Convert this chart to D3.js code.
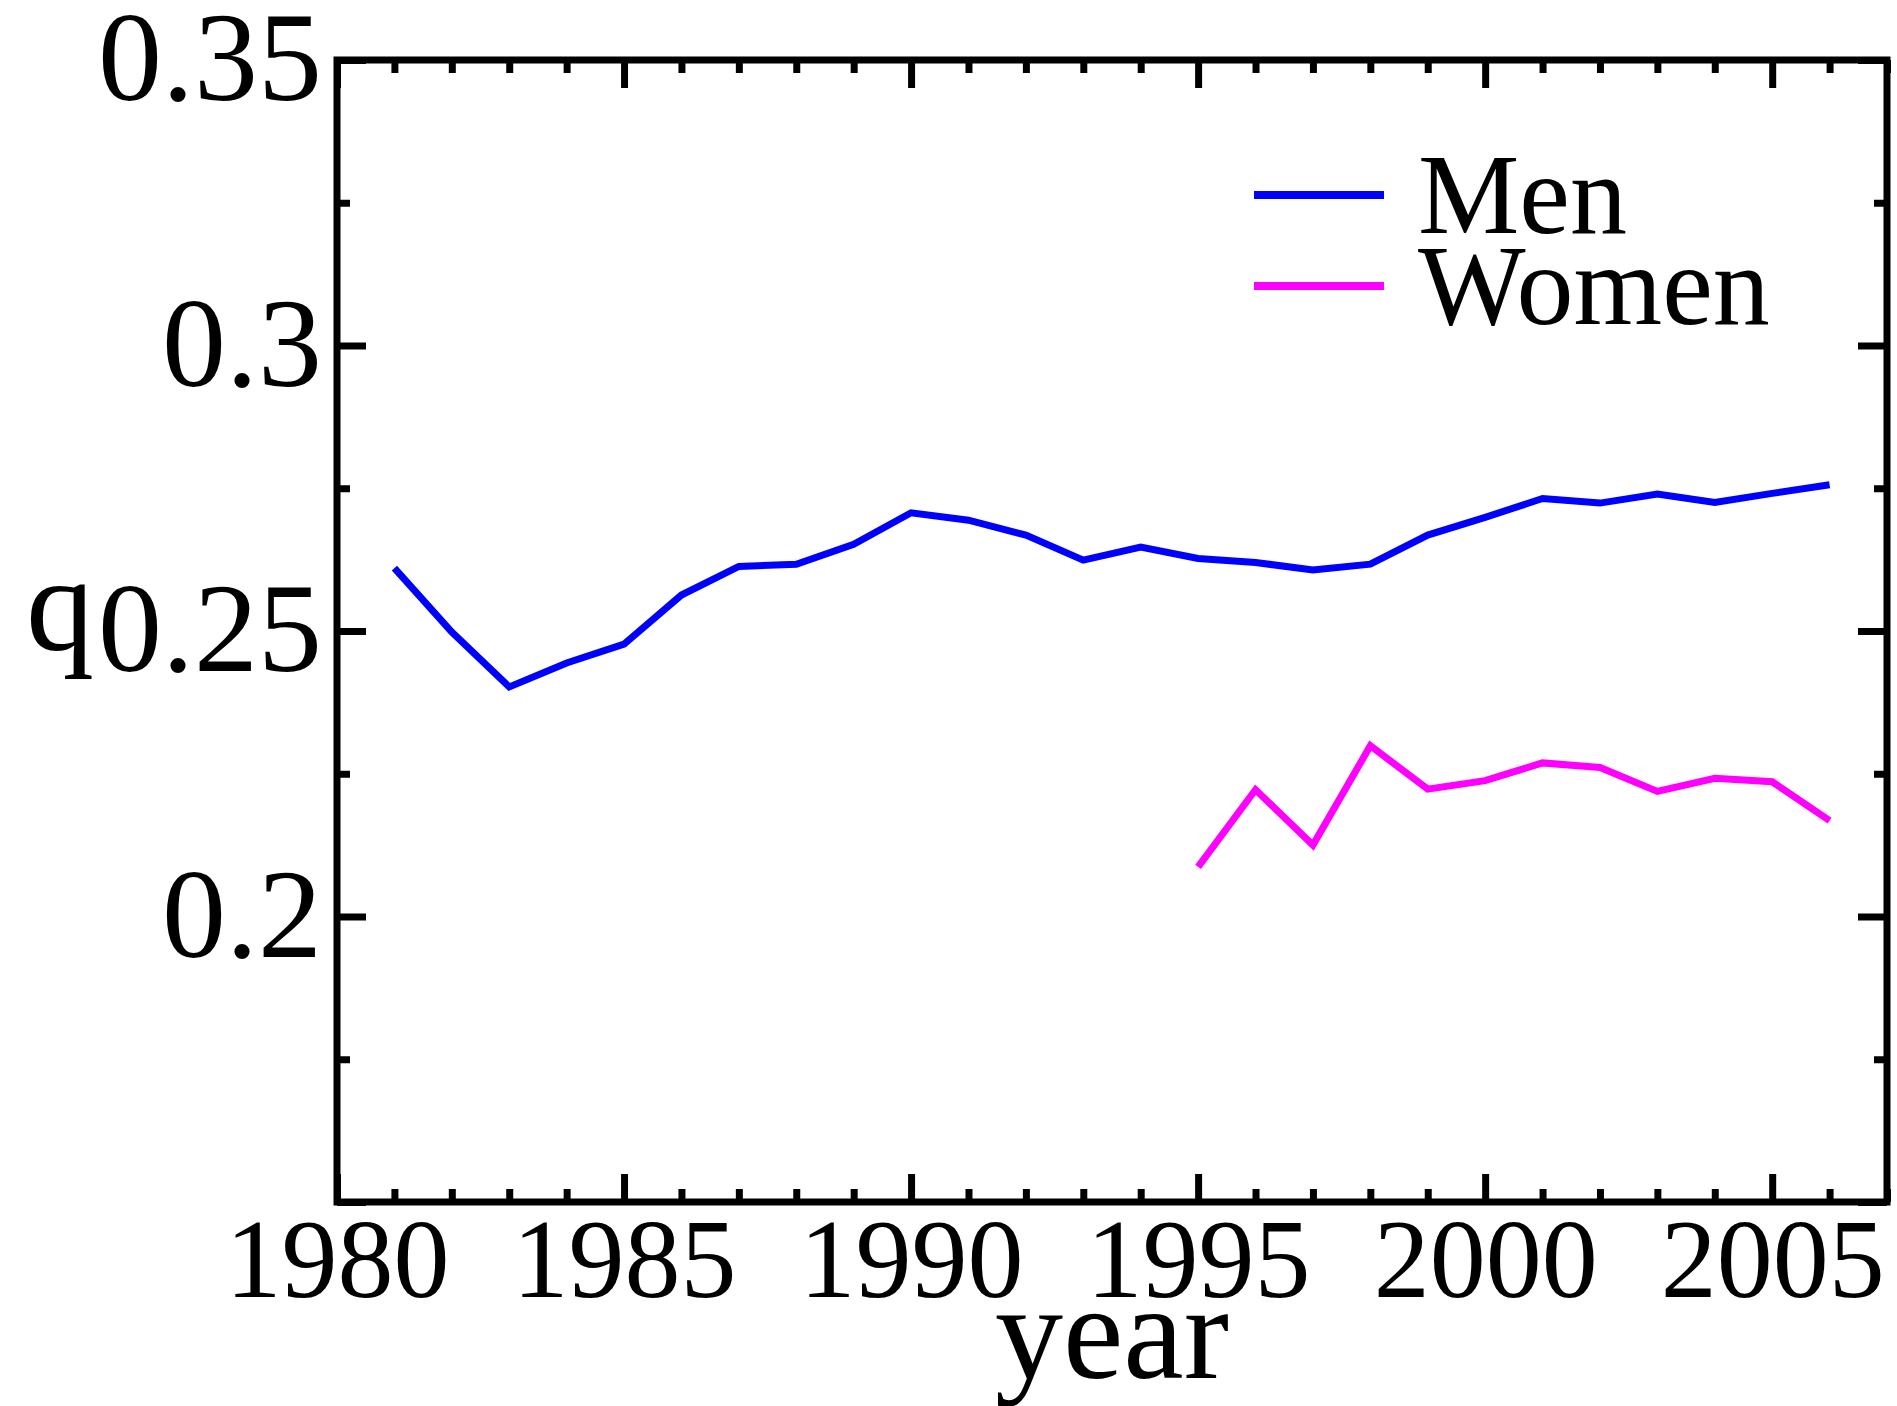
<!DOCTYPE html>
<html>
<head>
<meta charset="utf-8">
<script src="https://cdn.jsdelivr.net/npm/d3@7"></script>
<style>
  body { margin: 0; background: #fff; }
  svg text { font-family: "Liberation Serif", "Times New Roman", serif; fill: #000; }
</style>
</head>
<body>
<svg id="chart"></svg>
<script>
// Data
const menYears = [1981,1982,1983,1984,1985,1986,1987,1988,1989,1990,1991,1992,1993,
                  1994,1995,1996,1997,1998,1999,2000,2001,2002,2003,2004,2005,2006];
const menQ = [0.2610,0.2498,0.2402,0.2444,0.2477,0.2563,0.2613,0.2617,0.2652,0.2707,0.2694,0.2668,0.2624,
              0.2647,0.2627,0.2620,0.2607,0.2617,0.2668,0.2699,0.2732,0.2724,0.2740,0.2725,0.2741,0.2756];
const womenYears = [1995,1996,1997,1998,1999,2000,2001,2002,2003,2004,2005,2006];
const womenQ = [0.2087,0.2222,0.2125,0.2299,0.2223,0.2238,0.2269,0.2261,0.2219,0.2242,0.2236,0.2168];

const xMajor = [1980,1985,1990,1995,2000,2005];
const yMajor = [0.15,0.2,0.25,0.3,0.35];
const yLabelled = [0.2,0.25,0.3,0.35];

const series = [
  {name: "Men", color: "#0000ff", years: menYears, values: menQ},
  {name: "Women", color: "#ff00ff", years: womenYears, values: womenQ}
];

// The svg
const width = 1897, height = 1406;
const svg = d3.select("#chart").attr("width", width).attr("height", height);

const x = d3.scaleLinear().domain([1980, 2007]).range([337, 1887]);
const y = d3.scaleLinear().domain([0.15, 0.35]).range([1202, 60]);

const xMinor = d3.range(1980, 2008).filter(d => d % 5 !== 0);
const yMinor = d3.range(0.175, 0.35, 0.05);

const tickStyle = g => {
  g.select(".domain").remove();
  g.selectAll(".tick line").attr("stroke", "#000").attr("stroke-width", 7);
};

// bottom axis, ticks pointing inside
svg.append("g").attr("transform", `translate(0,${y.range()[0]})`)
  .call(d3.axisBottom(x).tickValues(xMajor).tickFormat(d3.format("d")).tickSize(-28).tickPadding(15))
  .call(tickStyle)
  .call(g => g.selectAll("text").attr("font-size", 112).attr("font-family", null));
svg.append("g").attr("transform", `translate(0,${y.range()[0]})`)
  .call(d3.axisBottom(x).tickValues(xMinor).tickFormat("").tickSize(-13))
  .call(tickStyle);

// top axis
svg.append("g").attr("transform", `translate(0,${y.range()[1]})`)
  .call(d3.axisTop(x).tickValues(xMajor).tickFormat("").tickSize(-28))
  .call(tickStyle);
svg.append("g").attr("transform", `translate(0,${y.range()[1]})`)
  .call(d3.axisTop(x).tickValues(xMinor).tickFormat("").tickSize(-13))
  .call(tickStyle);

// left axis
svg.append("g").attr("transform", `translate(${x.range()[0]},0)`)
  .call(d3.axisLeft(y).tickValues(yMajor).tickSize(-29).tickPadding(15)
        .tickFormat(d => yLabelled.some(v => Math.abs(v - d) < 1e-9) ? d3.format("")(+d.toFixed(2)) : ""))
  .call(tickStyle)
  .call(g => g.selectAll("text").attr("font-size", 128).attr("font-family", null).attr("dy", "0.31em"));
svg.append("g").attr("transform", `translate(${x.range()[0]},0)`)
  .call(d3.axisLeft(y).tickValues(yMinor).tickFormat("").tickSize(-13))
  .call(tickStyle);

// right axis
svg.append("g").attr("transform", `translate(${x.range()[1]},0)`)
  .call(d3.axisRight(y).tickValues(yMajor).tickFormat("").tickSize(-29))
  .call(tickStyle);
svg.append("g").attr("transform", `translate(${x.range()[1]},0)`)
  .call(d3.axisRight(y).tickValues(yMinor).tickFormat("").tickSize(-13))
  .call(tickStyle);

// frame
svg.append("rect")
  .attr("x", x.range()[0]).attr("y", y.range()[1])
  .attr("width", x.range()[1] - x.range()[0])
  .attr("height", y.range()[0] - y.range()[1])
  .attr("fill", "none").attr("stroke", "#000").attr("stroke-width", 7);

// lines
const line = d3.line().x(d => x(d[0])).y(d => y(d[1]));
svg.append("g").selectAll("path")
  .data(series)
  .join("path")
  .attr("fill", "none")
  .attr("stroke", d => d.color)
  .attr("stroke-width", 7)
  .attr("d", d => line(d3.zip(d.years, d.values)));

// legend
const legend = svg.append("g").selectAll("g")
  .data(series)
  .join("g")
  .attr("transform", (d, i) => `translate(1254,${195 + i * 91})`);
legend.append("line")
  .attr("x1", 0).attr("x2", 130)
  .attr("stroke", d => d.color).attr("stroke-width", 8);
legend.append("text")
  .attr("x", 164).attr("y", 38)
  .attr("font-size", 114)
  .text(d => d.name);

// axis titles
svg.append("text")
  .attr("x", (x.range()[0] + x.range()[1]) / 2).attr("y", 1378)
  .attr("text-anchor", "middle").attr("font-size", 136)
  .text("year");
svg.append("text")
  .attr("x", 26).attr("y", 650)
  .attr("font-size", 136)
  .text("q");
</script>
</body>
</html>
